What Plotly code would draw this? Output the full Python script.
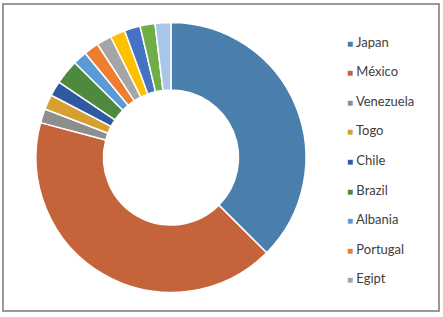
import plotly.graph_objects as go

# ---- data ----
labels = ["Japan", "México", "Venezuela", "Togo", "Chile", "Brazil", "Albania",
          "Portugal", "Egipt", "Country 10", "Country 11", "Country 12", "Country 13"]
values = [35.6, 39.6, 1.6, 1.7, 1.7, 2.8, 1.6, 1.7, 1.7, 1.7, 1.8, 1.7, 1.8]
colors = ["#4A7EAD", "#C5633A", "#8E8E8E", "#D6A031", "#2F5A9F", "#4E8A3E", "#5B9BD5",
          "#ED7D31", "#A5A5A5", "#FFC000", "#4472C4", "#70AD47", "#A9C6E8"]
legend_count = 9  # legend shows only the first nine entries

W, H = 443, 317

fig = go.Figure()
fig.add_trace(go.Pie(
    labels=labels, values=values, sort=False, direction="clockwise", rotation=0,
    hole=0.5, textinfo="none", hoverinfo="label+value",
    marker=dict(colors=colors, line=dict(color="white", width=1.5)),
    domain=dict(x=[36 / W, 306 / W], y=[1 - 292.5 / H, 1 - 22.5 / H]),
    showlegend=False,
))

for i in range(legend_count):
    fig.add_trace(go.Scatter(
        x=[None], y=[None], mode="markers",
        name=f'<span style="color:{colors[i]};font-size:10px">■</span> {labels[i]}',
        marker=dict(size=0, opacity=0, color="rgba(0,0,0,0)",
                    line=dict(width=0, color="rgba(0,0,0,0)")),
        legendgroup=f"g{i}", showlegend=True, hoverinfo="skip",
    ))

fig.update_layout(
    width=W, height=H,
    margin=dict(l=0, r=0, t=0, b=0),
    paper_bgcolor="white", plot_bgcolor="white",
    xaxis=dict(visible=False), yaxis=dict(visible=False),
    legend=dict(
        x=(349 - 42) / W, y=1 - 26.5 / H, xanchor="left", yanchor="top",
        font=dict(family="Lato, 'Open Sans', sans-serif", size=13, color="#404040"),
        tracegroupgap=9.7, bgcolor="rgba(0,0,0,0)", borderwidth=0,
    ),
    shapes=[dict(type="rect", xref="paper", yref="paper",
                 x0=3 / W, x1=439 / W, y0=1 - 311 / H, y1=1 - 4 / H,
                 line=dict(color="#9A9A9A", width=2), fillcolor="rgba(0,0,0,0)")],
)

fig.write_html("out.html", config={"displayModeBar": False},
               post_script="document.body.style.margin='0';document.body.style.overflow='hidden';")
